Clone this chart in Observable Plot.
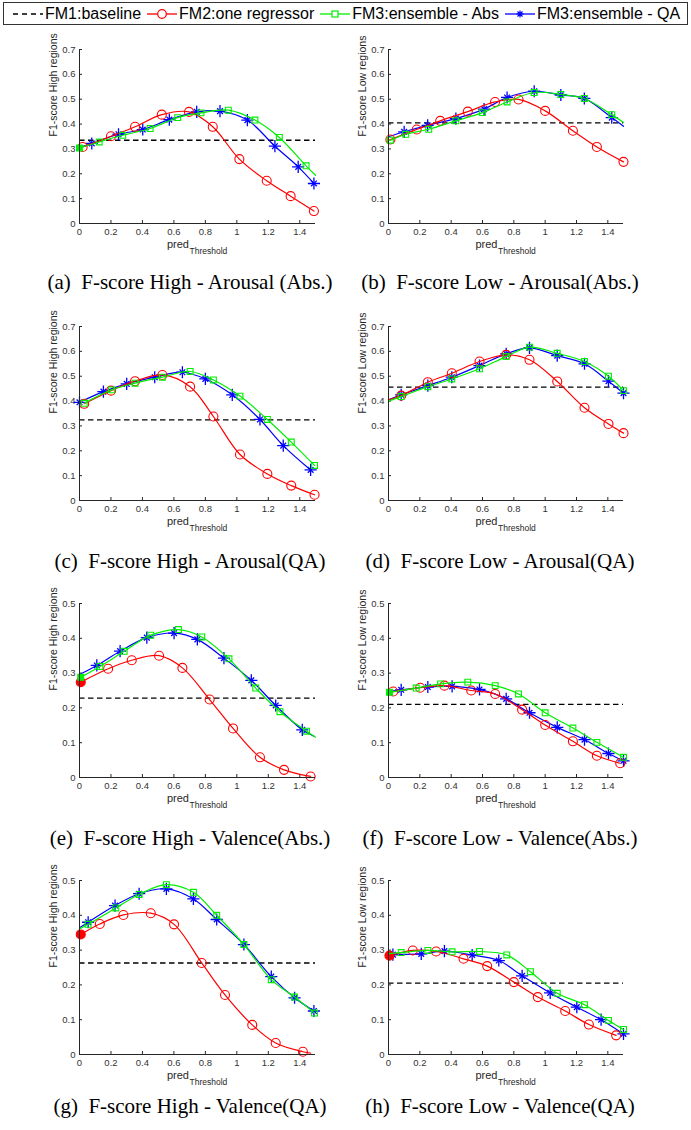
<!DOCTYPE html>
<html>
<head>
<meta charset="utf-8">
<script src="https://cdn.jsdelivr.net/npm/d3@7"></script>
<script src="https://cdn.jsdelivr.net/npm/@observablehq/plot@0.6"></script>
<style>
  html, body { margin: 0; padding: 0; background: #fff; }
  body { position: relative; width: 691px; height: 1130px; overflow: hidden; font-family: "Liberation Sans", Arial, sans-serif; }
  #legend { position: absolute; left: 3px; top: 2px; width: 685px; height: 23px; box-sizing: border-box; border: 1px solid #333;
            display: flex; align-items: center; padding-left: 8px; font-size: 16px; color: #000; white-space: nowrap; }
  .item { display: inline-flex; align-items: center; margin-right: 5px; }
  .item svg { display: block; margin-right: 1px; }
  .panel { position: absolute; }
  .cap { position: absolute; transform: translate(-50%, -50%); font-family: "Liberation Serif", "DejaVu Serif", serif;
         font-size: 21px; color: #000; white-space: pre; }
</style>
</head>
<body>
<div id="legend"></div>
<script>
// ---------- data ----------
const xTicks = [0, 0.2, 0.4, 0.6, 0.8, 1, 1.2, 1.4];
const yTicksArousal = [0, 0.1, 0.2, 0.3, 0.4, 0.5, 0.6, 0.7];
const yTicksValence = [0, 0.1, 0.2, 0.3, 0.4, 0.5];
const seriesNames = ["FM1:baseline", "FM2:one regressor", "FM3:ensemble - Abs", "FM3:ensemble - QA"];
const captions = [
  "(a)  F-score High - Arousal (Abs.)", "(b)  F-score Low - Arousal(Abs.)",
  "(c)  F-score High - Arousal(QA)", "(d)  F-score Low - Arousal(QA)",
  "(e)  F-score High - Valence(Abs.)", "(f)  F-score Low - Valence(Abs.)",
  "(g)  F-score High - Valence(QA)", "(h)  F-score Low - Valence(QA)"
];
const yLabels = ["F1-score High regions", "F1-score Low regions"];
const xLabelMain = "pred";
const xLabelSub = "Threshold";
// FM1 baseline per panel a..h
const baselines = [0.335, 0.405, 0.324, 0.456, 0.228, 0.21, 0.263, 0.205];

// points: [predThreshold, F1, hasMarker]
// (a) High - Arousal (Abs.)
const fm2_a = [[0,0.305,0],[0.02,0.308,1],[0.2,0.351,1],[0.353,0.389,1],[0.523,0.438,1],[0.696,0.449,1],[0.847,0.389,1],[1.016,0.259,1],[1.19,0.172,1],[1.342,0.11,1],[1.49,0.05,1]];
const abs_a = [[0,0.304,1],[0.125,0.328,1],[0.275,0.355,1],[0.449,0.382,1],[0.624,0.426,1],[0.772,0.445,1],[0.946,0.456,1],[1.115,0.416,1],[1.27,0.346,1],[1.44,0.232,1],[1.5,0.194,0]];
const qa_a = [[0,0.306,0],[0.078,0.322,1],[0.248,0.359,1],[0.402,0.378,1],[0.571,0.418,1],[0.745,0.449,1],[0.893,0.452,1],[1.067,0.416,1],[1.242,0.311,1],[1.39,0.228,1],[1.49,0.161,1]];
// (b) Low - Arousal (Abs.)
const fm2_b = [[0,0.335,0],[0.012,0.338,1],[0.18,0.378,1],[0.33,0.413,1],[0.506,0.45,1],[0.68,0.489,1],[0.83,0.499,1],[1.0,0.453,1],[1.177,0.373,1],[1.33,0.308,1],[1.5,0.248,1]];
const abs_b = [[0,0.333,0],[0.012,0.335,1],[0.11,0.359,1],[0.257,0.379,1],[0.43,0.413,1],[0.6,0.446,1],[0.757,0.489,1],[0.93,0.527,1],[1.1,0.519,1],[1.25,0.503,1],[1.425,0.438,1],[1.5,0.406,0]];
const qa_b = [[0,0.349,0],[0.1,0.369,1],[0.25,0.395,1],[0.43,0.422,1],[0.61,0.46,1],[0.757,0.507,1],[0.93,0.532,1],[1.1,0.517,1],[1.25,0.503,1],[1.425,0.426,1],[1.5,0.391,0]];
// (c) High - Arousal (QA)
const fm2_c = [[0.03,0.389,1],[0.2,0.442,1],[0.353,0.48,1],[0.527,0.505,1],[0.703,0.458,1],[0.851,0.338,1],[1.02,0.185,1],[1.194,0.107,1],[1.346,0.06,1],[1.494,0.023,1]];
const abs_c = [[0.03,0.391,1],[0.203,0.445,1],[0.353,0.472,1],[0.527,0.496,1],[0.703,0.519,1],[0.851,0.485,1],[1.02,0.42,1],[1.194,0.326,1],[1.346,0.235,1],[1.494,0.141,1]];
const qa_c = [[0,0.395,1],[0.152,0.438,1],[0.3,0.469,1],[0.478,0.496,1],[0.654,0.516,1],[0.8,0.489,1],[0.971,0.425,1],[1.147,0.326,1],[1.295,0.221,1],[1.469,0.123,1]];
// (d) Low - Arousal (QA)
const fm2_d = [[0,0.405,0],[0.081,0.422,1],[0.251,0.476,1],[0.404,0.512,1],[0.581,0.559,1],[0.751,0.586,1],[0.9,0.566,1],[1.077,0.479,1],[1.251,0.373,1],[1.404,0.308,1],[1.5,0.271,1]];
const abs_d = [[0,0.4,0],[0.081,0.418,1],[0.251,0.458,1],[0.404,0.489,1],[0.581,0.53,1],[0.751,0.579,1],[0.9,0.617,1],[1.077,0.592,1],[1.251,0.559,1],[1.404,0.5,1],[1.5,0.442,1]];
const qa_d = [[0,0.405,0],[0.081,0.425,1],[0.251,0.462,1],[0.404,0.496,1],[0.581,0.543,1],[0.751,0.59,1],[0.9,0.614,1],[1.077,0.583,1],[1.251,0.55,1],[1.404,0.48,1],[1.5,0.432,1]];
// (e) High - Valence (Abs.)
const fm2_e = [[0.008,0.274,1],[0.182,0.3125,1],[0.332,0.337,1],[0.506,0.35,1],[0.654,0.315,1],[0.827,0.224,1],[0.976,0.141,1],[1.147,0.058,1],[1.3,0.022,1],[1.469,0.003,1]];
const abs_e = [[0.008,0.288,1],[0.13,0.319,1],[0.284,0.3625,1],[0.453,0.409,1],[0.629,0.425,1],[0.777,0.404,1],[0.95,0.341,1],[1.12,0.257,1],[1.274,0.189,1],[1.443,0.133,1],[1.5,0.116,0]];
const qa_e = [[0,0.296,0],[0.11,0.322,1],[0.258,0.363,1],[0.428,0.402,1],[0.601,0.415,1],[0.749,0.397,1],[0.918,0.343,1],[1.092,0.279,1],[1.247,0.207,1],[1.416,0.137,1],[1.494,0.118,0]];
// (f) Low - Valence (Abs.)
const fm2_f = [[0,0.245,0],[0.03,0.247,1],[0.202,0.258,1],[0.357,0.264,1],[0.528,0.25,1],[0.681,0.24,1],[0.853,0.195,1],[1.0,0.151,1],[1.177,0.104,1],[1.33,0.0625,1],[1.479,0.041,1]];
const abs_f = [[0.006,0.245,1],[0.177,0.257,1],[0.332,0.269,1],[0.506,0.274,1],[0.681,0.264,1],[0.83,0.24,1],[1.0,0.186,1],[1.177,0.142,1],[1.33,0.101,1],[1.5,0.058,1]];
const qa_f = [[0,0.247,0],[0.081,0.252,1],[0.251,0.26,1],[0.406,0.262,1],[0.581,0.253,1],[0.751,0.226,1],[0.9,0.186,1],[1.077,0.144,1],[1.251,0.109,1],[1.404,0.069,1],[1.5,0.048,1]];
// (g) High - Valence (QA)
const fm2_g = [[0.008,0.345,1],[0.129,0.375,1],[0.279,0.401,1],[0.453,0.406,1],[0.601,0.374,1],[0.777,0.263,1],[0.925,0.171,1],[1.098,0.085,1],[1.247,0.033,1],[1.42,0.008,1],[1.469,0.004,0]];
const abs_g = [[0,0.361,0],[0.055,0.374,1],[0.231,0.421,1],[0.379,0.46,1],[0.552,0.488,1],[0.724,0.466,1],[0.872,0.4,1],[1.045,0.316,1],[1.219,0.215,1],[1.367,0.165,1],[1.494,0.119,1]];
const qa_g = [[0,0.364,0],[0.055,0.38,1],[0.226,0.428,1],[0.379,0.462,1],[0.552,0.476,1],[0.724,0.447,1],[0.872,0.388,1],[1.045,0.316,1],[1.219,0.224,1],[1.367,0.163,1],[1.49,0.125,1]];
// (h) Low - Valence (QA)
const fm2_h = [[0.006,0.284,1],[0.155,0.299,1],[0.304,0.296,1],[0.479,0.275,1],[0.63,0.254,1],[0.8,0.208,1],[0.953,0.165,1],[1.128,0.125,1],[1.279,0.086,1],[1.453,0.055,1]];
const abs_h = [[0,0.29,0],[0.081,0.293,1],[0.251,0.299,1],[0.406,0.295,1],[0.581,0.296,1],[0.755,0.286,1],[0.906,0.238,1],[1.077,0.176,1],[1.251,0.143,1],[1.404,0.098,1],[1.5,0.072,1]];
const qa_h = [[0,0.285,0],[0.028,0.287,1],[0.209,0.289,1],[0.357,0.297,1],[0.534,0.286,1],[0.704,0.27,1],[0.853,0.226,1],[1.032,0.177,1],[1.202,0.136,1],[1.357,0.1,1],[1.5,0.059,1]];

const fm2All = [fm2_a, fm2_b, fm2_c, fm2_d, fm2_e, fm2_f, fm2_g, fm2_h];
const absAll = [abs_a, abs_b, abs_c, abs_d, abs_e, abs_f, abs_g, abs_h];
const qaAll  = [qa_a, qa_b, qa_c, qa_d, qa_e, qa_f, qa_g, qa_h];

// ---------- styling / layout ----------
const RED = "#ff0000", GREEN = "#00ee00", BLUE = "#0000ff";
const plotTops = [49, 326, 603, 880];
const capY = [282, 561, 838, 1106];
const capX = [190, 500];
const plotH = 174;
const AX = "#262626";

// ---------- legend ----------
const legend = document.getElementById("legend");
const swatch = (kind) => {
  const ns = "http://www.w3.org/2000/svg";
  const s = document.createElementNS(ns, "svg");
  s.setAttribute("width", 32); s.setAttribute("height", 14);
  const ln = document.createElementNS(ns, "line");
  ln.setAttribute("x1", 1); ln.setAttribute("x2", 31); ln.setAttribute("y1", 7); ln.setAttribute("y2", 7);
  ln.setAttribute("stroke-width", 1.3);
  const col = kind === 0 ? "#000" : kind === 1 ? RED : kind === 2 ? GREEN : BLUE;
  ln.setAttribute("stroke", col);
  if (kind === 0) ln.setAttribute("stroke-dasharray", "5,4");
  s.appendChild(ln);
  if (kind === 1) {
    const c = document.createElementNS(ns, "circle");
    c.setAttribute("cx", 16); c.setAttribute("cy", 7); c.setAttribute("r", 4.3);
    c.setAttribute("fill", "#fff"); c.setAttribute("stroke", col); c.setAttribute("stroke-width", 1.2);
    s.appendChild(c);
  } else if (kind === 2) {
    const r = document.createElementNS(ns, "rect");
    r.setAttribute("x", 13); r.setAttribute("y", 4); r.setAttribute("width", 6); r.setAttribute("height", 6);
    r.setAttribute("fill", "#fff"); r.setAttribute("stroke", col); r.setAttribute("stroke-width", 1.2);
    s.appendChild(r);
  } else if (kind === 3) {
    const p = document.createElementNS(ns, "path");
    p.setAttribute("d", "M16,3.5V10.5M12.5,7H19.5M13.5,4.5L18.5,9.5M13.5,9.5L18.5,4.5");
    p.setAttribute("stroke", col); p.setAttribute("stroke-width", 1.2);
    s.appendChild(p);
  }
  return s;
};
seriesNames.forEach((name, k) => {
  const it = document.createElement("span");
  it.className = "item";
  it.appendChild(swatch(k));
  const t = document.createElement("span");
  t.textContent = name;
  it.appendChild(t);
  legend.appendChild(it);
});

// ---------- panels ----------
const toObj = arr => arr.map(([x, y, m]) => ({x, y, m}));

function seriesMarks(pts, color, kind) {
  const data = toObj(pts);
  const marked = data.filter(d => d.m === 1);
  const marks = [Plot.line(data, {x: "x", y: "y", stroke: color, strokeWidth: 1.2, curve: "catmull-rom"})];
  const filledSel = marked.filter(d => d.x < 0.01);
  const openSel = marked.filter(d => d.x >= 0.01);
  if (kind === "circle") {
    marks.push(Plot.dot(openSel, {x: "x", y: "y", r: 4.5, symbol: "circle", stroke: color, fill: "none", strokeWidth: 1.1}));
    marks.push(Plot.dot(filledSel, {x: "x", y: "y", r: 4.5, symbol: "circle", stroke: color, fill: color, strokeWidth: 1.1}));
  } else if (kind === "square") {
    marks.push(Plot.dot(openSel, {x: "x", y: "y", r: 3.3, symbol: "square", stroke: color, fill: "none", strokeWidth: 1.1}));
    marks.push(Plot.dot(filledSel, {x: "x", y: "y", r: 3.3, symbol: "square", stroke: color, fill: color, strokeWidth: 1.1}));
  } else {
    marks.push(Plot.dot(marked, {x: "x", y: "y", r: 4, symbol: "plus", stroke: color, strokeWidth: 1.3}));
    marks.push(Plot.dot(marked, {x: "x", y: "y", r: 2.7, symbol: "times", stroke: color, strokeWidth: 1.3}));
  }
  return marks;
}

for (let i = 0; i < 8; i++) {
  const col = i % 2, row = Math.floor(i / 2);
  const svgLeft = col ? 345 : 0;
  const width = col ? 346 : 345;
  const mL = col ? 43 : 79, mR = col ? 68 : 30;
  const mT = 8, mB = 42;
  const plotW = width - mL - mR;
  const yTicks = row < 2 ? yTicksArousal : yTicksValence;
  const ymax = yTicks[yTicks.length - 1];

  const chart = Plot.plot({
    width, height: mT + plotH + mB,
    marginLeft: mL, marginRight: mR, marginTop: mT, marginBottom: mB,
    x: {domain: [0, 1.5]},
    y: {domain: [0, ymax]},
    style: {background: "transparent", fontFamily: "'Liberation Sans', Arial, sans-serif", fontSize: "9.5px", overflow: "visible"},
    marks: [
      Plot.axisX(xTicks, {tickSize: 0, tickPadding: 5, fill: "#333", label: null, tickFormat: d => String(d)}),
      Plot.axisY(yTicks, {tickSize: 0, tickPadding: 4, fill: "#333", label: null, tickFormat: d => String(d)}),
      Plot.tickX(xTicks, {x: d => d, insetTop: plotH - 3, stroke: AX}),
      Plot.tickY(yTicks, {y: d => d, insetRight: plotW - 3, stroke: AX}),
      Plot.ruleY([baselines[i]], {stroke: "#000", strokeWidth: 1.3, strokeDasharray: "5.5,3.5"}),
      ...seriesMarks(qaAll[i], BLUE, "star"),
      ...seriesMarks(fm2All[i], RED, "circle"),
      ...seriesMarks(absAll[i], GREEN, "square"),
      Plot.ruleX([0], {stroke: AX, strokeWidth: 1}),
      Plot.ruleY([0], {stroke: AX, strokeWidth: 1}),
      Plot.text([yLabels[col]], {frameAnchor: "left", dx: -26, rotate: -90, text: d => d, fontSize: 10.5, fill: AX}),
      Plot.text([xLabelMain], {frameAnchor: "bottom", dx: -8.5, dy: 24, textAnchor: "end", text: d => d, fontSize: 11, fill: AX}),
      Plot.text([xLabelSub], {frameAnchor: "bottom", dx: -8, dy: 30.5, textAnchor: "start", text: d => d, fontSize: 8.5, fill: AX})
    ]
  });
  const wrap = document.createElement("div");
  wrap.className = "panel";
  wrap.style.left = svgLeft + "px";
  wrap.style.top = (plotTops[row] - mT) + "px";
  wrap.appendChild(chart);
  document.body.appendChild(wrap);

  const cap = document.createElement("div");
  cap.className = "cap";
  cap.style.left = capX[col] + "px";
  cap.style.top = capY[row] + "px";
  cap.textContent = captions[i];
  document.body.appendChild(cap);
}
</script>
</body>
</html>
